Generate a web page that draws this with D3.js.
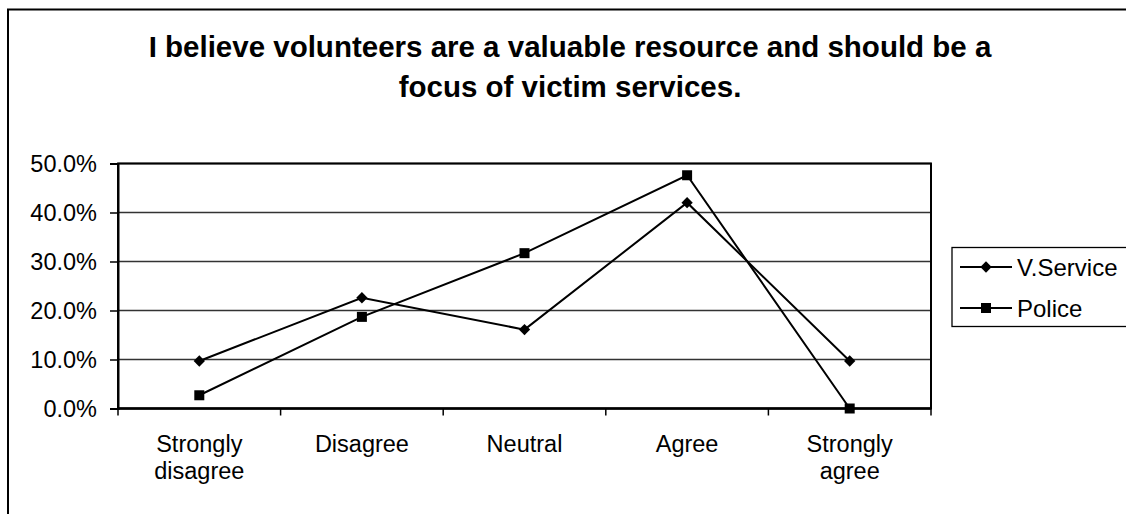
<!DOCTYPE html>
<html>
<head>
<meta charset="utf-8">
<script src="https://cdn.jsdelivr.net/npm/d3@7"></script>
<style>
  html, body { margin: 0; padding: 0; background: #fff; }
  svg { display: block; font-family: Arial, "Liberation Sans", sans-serif; }
</style>
</head>
<body>
<svg id="chart" width="1126" height="514"></svg>
<script>
// Survey responses (share of respondents)
const categories = [["Strongly", "disagree"], ["Disagree"], ["Neutral"], ["Agree"], ["Strongly", "agree"]];
const vService = [0.097, 0.226, 0.161, 0.420, 0.097];
const police = [0.027, 0.187, 0.317, 0.476, 0.000];
const yTicks = [0, 0.1, 0.2, 0.3, 0.4, 0.5];
const titleLines = ["I believe volunteers are a valuable resource and should be a", "focus of victim services."];
const seriesNames = ["V.Service", "Police"];

const svg = d3.select("#chart");
const plot = { left: 118, right: 931, top: 163.5, bottom: 408.5 };

// outer chart frame (left and top edges visible)
svg.append("path")
  .attr("d", "M8,514 L8,9.5 L1126,9.5")
  .attr("fill", "none").attr("stroke", "#000").attr("stroke-width", 2);

// title
svg.append("g").selectAll("text").data(titleLines).join("text")
  .attr("x", 570).attr("y", (d, i) => 57 + i * 39.5)
  .attr("text-anchor", "middle")
  .attr("font-size", 29.5).attr("font-weight", "bold")
  .text(d => d);

const x = d3.scaleBand().domain(d3.range(categories.length)).range([plot.left, plot.right]);
const y = d3.scaleLinear().domain([0, 0.5]).range([plot.bottom, plot.top]);

// gridlines
svg.append("g").selectAll("line").data(yTicks.slice(1)).join("line")
  .attr("x1", plot.left).attr("x2", plot.right)
  .attr("y1", d => y(d)).attr("y2", d => y(d))
  .attr("stroke", "#333").attr("stroke-width", 1.3);

// plot border
svg.append("rect")
  .attr("x", plot.left).attr("y", plot.top)
  .attr("width", plot.right - plot.left).attr("height", plot.bottom - plot.top)
  .attr("fill", "none").attr("stroke", "#000").attr("stroke-width", 2);

// y axis
const yAxis = svg.append("g").attr("transform", `translate(${plot.left},0)`)
  .call(d3.axisLeft(y).tickValues(yTicks).tickFormat(d3.format(".1%")).tickSize(8).tickPadding(13));
yAxis.select(".domain").attr("stroke-width", 2);
yAxis.selectAll(".tick line").attr("stroke-width", 1.5);
yAxis.selectAll("text").attr("font-size", 23.5).attr("font-family", "Arial, 'Liberation Sans', sans-serif").attr("fill", "#000");

// x axis ticks at category boundaries
const bounds = d3.range(categories.length + 1).map(i => plot.left + i * x.step());
svg.append("g").selectAll("line").data(bounds).join("line")
  .attr("x1", d => d).attr("x2", d => d)
  .attr("y1", plot.bottom).attr("y2", plot.bottom + 7)
  .attr("stroke", "#000").attr("stroke-width", 1.5);
svg.append("line")
  .attr("x1", plot.left).attr("x2", plot.right)
  .attr("y1", plot.bottom).attr("y2", plot.bottom)
  .attr("stroke", "#000").attr("stroke-width", 2.5);

// category labels
const catLabels = svg.append("g").selectAll("text").data(categories).join("text")
  .attr("x", (d, i) => x(i) + x.bandwidth() / 2)
  .attr("y", 452)
  .attr("text-anchor", "middle")
  .attr("font-size", 23.5);
catLabels.selectAll("tspan").data(d => d).join("tspan")
  .attr("x", function () { return d3.select(this.parentNode).attr("x"); })
  .attr("dy", (d, i) => i === 0 ? 0 : 27)
  .text(d => d);

// series
const cx = i => x(i) + x.bandwidth() / 2;
const line = d3.line().x((d, i) => cx(i)).y(d => y(d));
const diamondPath = d3.symbol().type(d3.symbolSquare).size(64);

[vService, police].forEach((vals, s) => {
  svg.append("path").datum(vals)
    .attr("d", line).attr("fill", "none").attr("stroke", "#000").attr("stroke-width", 2);
  const g = svg.append("g");
  if (s === 0) {
    g.selectAll("path").data(vals).join("path")
      .attr("d", diamondPath)
      .attr("transform", (d, i) => `translate(${cx(i)},${y(d)}) rotate(45)`)
      .attr("fill", "#000");
  } else {
    g.selectAll("rect").data(vals).join("rect")
      .attr("x", (d, i) => cx(i) - 5).attr("y", d => y(d) - 5)
      .attr("width", 10).attr("height", 10).attr("fill", "#000");
  }
});

// legend
const legend = svg.append("g");
legend.append("rect")
  .attr("x", 952).attr("y", 247.5).attr("width", 190).attr("height", 79)
  .attr("fill", "#fff").attr("stroke", "#000").attr("stroke-width", 1.3);
const entryY = [267, 308];
seriesNames.forEach((name, s) => {
  const yy = entryY[s];
  legend.append("line").attr("x1", 960).attr("x2", 1012).attr("y1", yy).attr("y2", yy)
    .attr("stroke", "#000").attr("stroke-width", 2);
  if (s === 0) {
    legend.append("path")
      .attr("d", diamondPath)
      .attr("transform", `translate(986,${yy}) rotate(45)`).attr("fill", "#000");
  } else {
    legend.append("rect").attr("x", 981).attr("y", yy - 5).attr("width", 10).attr("height", 10).attr("fill", "#000");
  }
  legend.append("text").attr("x", 1017).attr("y", yy + 8.5)
    .attr("font-size", 24).text(name);
});
</script>
</body>
</html>
